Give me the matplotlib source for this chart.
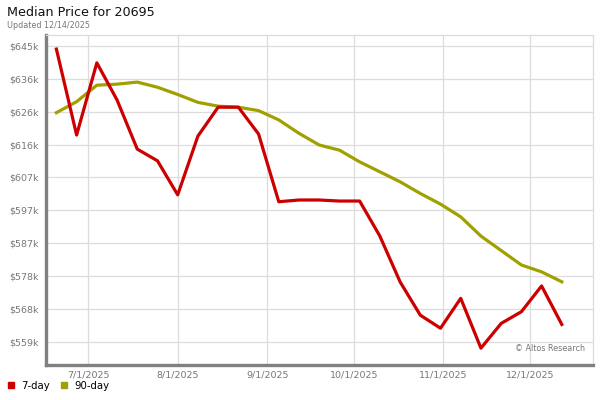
import matplotlib
matplotlib.use("Agg")
import matplotlib.pyplot as plt
import matplotlib.dates as mdates
from matplotlib.lines import Line2D
import numpy as np
import datetime as dt

# ---- data ----
start_date = dt.date(2025, 6, 20)
n_weeks = 26
dates = [start_date + dt.timedelta(days=7 * i) for i in range(n_weeks)]

price_7day = [644.1, 619.1, 640.1, 629.3, 615.0, 611.6, 601.7, 618.8, 627.2, 627.2,
              619.4, 599.7, 600.2, 600.2, 599.9, 599.9, 589.7, 576.4, 566.7, 562.9,
              571.6, 557.1, 564.3, 567.7, 575.2, 564.0]
price_90day = [625.6, 628.8, 633.6, 633.9, 634.5, 633.0, 630.9, 628.6, 627.5, 627.2,
               626.2, 623.5, 619.6, 616.2, 614.7, 611.3, 608.4, 605.5, 602.1, 599.0,
               595.3, 589.7, 585.5, 581.3, 579.3, 576.4]

ytick_labels = ["$559k", "$568k", "$578k", "$587k", "$597k",
                "$607k", "$616k", "$626k", "$636k", "$645k"]
xtick_dates = [dt.date(2025, m, 1) for m in (7, 8, 9, 10, 11, 12)]
xtick_labels = ["7/1/2025", "8/1/2025", "9/1/2025", "10/1/2025", "11/1/2025", "12/1/2025"]

series_names = ["7-day", "90-day"]
colors = ["#cc0000", "#a0a000"]

# ---- figure ----
fig = plt.figure(figsize=(6, 4), dpi=100)
ax = fig.add_axes([46 / 600, 35 / 400, (593 - 46) / 600, (365 - 35) / 400])

x = mdates.date2num(dates)
ax.plot(x, price_7day, color=colors[0], lw=2.3, zorder=4)
ax.plot(x, price_90day, color=colors[1], lw=2.3, zorder=3)

yticks = np.linspace(559, 645, len(ytick_labels))
ax.set_yticks(yticks)
ax.set_yticklabels(ytick_labels)
ax.set_xticks(mdates.date2num(xtick_dates))
ax.set_xticklabels(xtick_labels)

d0 = mdates.date2num(dt.date(2025, 7, 1))
ax.set_xlim(d0 - 14.6, d0 + 174.8)
ax.set_ylim(645 - 319 * 0.2909, 645 + 11 * 0.2909)

ax.grid(True, color="#dcdcdc", lw=0.9)
ax.set_axisbelow(True)
ax.tick_params(axis="both", length=0, labelsize=6.8, colors="#777777", pad=4)
ax.tick_params(axis="y", pad=5)

for side in ("top", "right"):
    ax.spines[side].set_color("#dcdcdc")
    ax.spines[side].set_linewidth(0.9)
for side in ("left", "bottom"):
    ax.spines[side].set_color("#808080")
    ax.spines[side].set_linewidth(2.4)

fig.text(7 / 600, 1 - 13 / 400, "Median Price for 20695", fontsize=9.2, color="#111111",
         va="center", ha="left")
fig.text(7 / 600, 1 - 25 / 400, "Updated 12/14/2025", fontsize=5.8, color="#777777",
         va="center", ha="left")
ax.text(0.985, 0.035, "© Altos Research", transform=ax.transAxes, fontsize=5.8,
        color="#777777", ha="right", va="bottom")

handles = [Line2D([], [], ls="none", marker="s", markersize=4.5, color=c) for c in colors]
fig.legend(handles, series_names, loc="center left", bbox_to_anchor=(7 / 600, 1 - 386 / 400),
           ncol=2, frameon=False, fontsize=7.3, handlelength=0.7, handletextpad=0.7,
           columnspacing=1.0, borderaxespad=0.0, borderpad=0.0)

fig.savefig("out.png", dpi=100)
